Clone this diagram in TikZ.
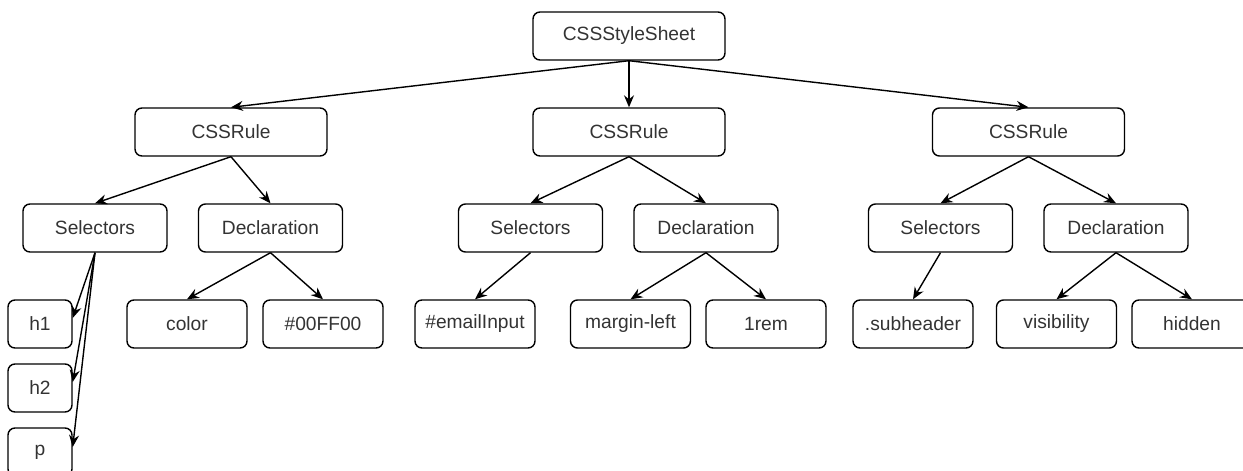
\documentclass[tikz,border=0pt]{standalone}
\usepackage{fontspec}
\setmainfont{Liberation Sans}
\usepackage{tikz}
\usetikzlibrary{arrows.meta}
\tikzstyle{box} = [draw, line width=1.4pt, rounded corners=7pt, minimum height=48pt, inner sep=0pt, text=black!80, font=\fontsize{19.2}{23}\selectfont]
\tikzstyle{rulebox} = [box, minimum width=192pt]
\tikzstyle{partbox} = [box, minimum width=144pt]
\tikzstyle{leafbox} = [box, minimum width=120pt]
\tikzstyle{tagbox} = [box, minimum width=64pt]
\tikzstyle{arrow} = [line width=1.4pt,-{Stealth[length=12pt,width=10pt,inset=4pt]}]

\begin{document}
\begin{tikzpicture}[node distance=96pt]
    \clip (0,0) rectangle (1243pt,-471pt);
    \node[rulebox] (sheet) at (629pt,-36pt) {CSSStyleSheet};
    \node[rulebox] (ruleA) [below of=sheet, xshift=-398pt] {CSSRule};
    \node[rulebox] (ruleB) [below of=sheet] {CSSRule};
    \node[rulebox] (ruleC) [below of=sheet, xshift=399.5pt] {CSSRule};

    \node[partbox] (selA) [below of=ruleA, xshift=-136pt] {Selectors};
    \node[partbox] (declA) [below of=ruleA, xshift=39.5pt] {Declaration};
    \node[partbox] (selB) [below of=ruleB, xshift=-98.5pt] {Selectors};
    \node[partbox] (declB) [below of=ruleB, xshift=77pt] {Declaration};
    \node[partbox] (selC) [below of=ruleC, xshift=-88pt] {Selectors};
    \node[partbox] (declC) [below of=ruleC, xshift=87.5pt] {Declaration};

    \node[tagbox] (h1) [below of=selA, xshift=-55pt] {h1};
    \node[tagbox] (h2) [below of=h1, node distance=64pt] {h2};
    \node[tagbox] (p) [below of=h2, node distance=64pt] {p};
    \node[leafbox] (propA) [below of=declA, xshift=-83.5pt] {color};
    \node[leafbox] (valA) [below of=declA, xshift=52.5pt] {\#00FF00};
    \node[leafbox] (idB) [below of=selB, xshift=-55.5pt] {\#emailInput};
    \node[leafbox] (propB) [below of=declB, xshift=-75.5pt] {margin-left};
    \node[leafbox] (valB) [below of=declB, xshift=60pt] {1rem};
    \node[leafbox] (classC) [below of=selC, xshift=-27.5pt] {.subheader};
    \node[leafbox] (propC) [below of=declC, xshift=-59.5pt] {visibility};
    \node[leafbox] (valC) [below of=declC, xshift=76pt] {hidden};

    % Edges
    \draw[arrow] (sheet.south) -- (ruleA.north);
    \draw[arrow] (sheet.south) -- (ruleB.north);
    \draw[arrow] (sheet.south) -- (ruleC.north);
    \draw[arrow] (ruleA.south) -- (selA.north);
    \draw[arrow] (ruleA.south) -- (declA.north);
    \draw[arrow] (ruleB.south) -- (selB.north);
    \draw[arrow] (ruleB.south) -- (declB.north);
    \draw[arrow] (ruleC.south) -- (selC.north);
    \draw[arrow] (ruleC.south) -- (declC.north);
    \draw[arrow] (selA.south) -- ([yshift=6pt]h1.east);
    \draw[arrow] (selA.south) -- ([yshift=6pt]h2.east);
    \draw[arrow] (selA.south) -- ([yshift=5pt]p.east);
    \draw[arrow] (declA.south) -- (propA.north);
    \draw[arrow] (declA.south) -- (valA.north);
    \draw[arrow] (selB.south) -- (idB.north);
    \draw[arrow] (declB.south) -- (propB.north);
    \draw[arrow] (declB.south) -- (valB.north);
    \draw[arrow] (selC.south) -- (classC.north);
    \draw[arrow] (declC.south) -- (propC.north);
    \draw[arrow] (declC.south) -- (valC.north);
\end{tikzpicture}
\end{document}
